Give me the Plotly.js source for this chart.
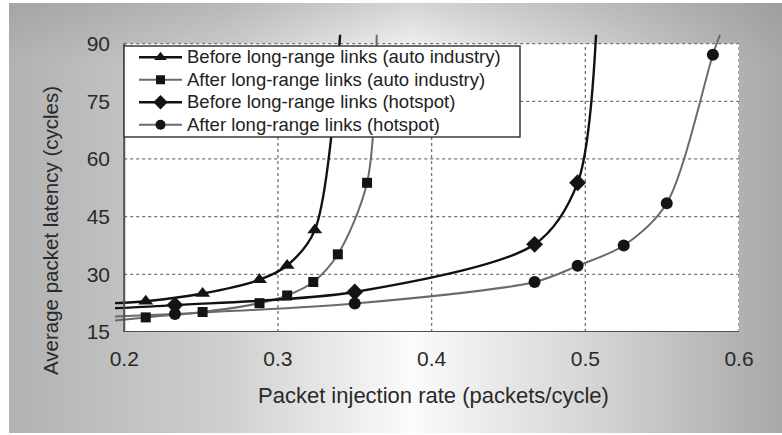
<!DOCTYPE html>
<html>
<head>
<meta charset="utf-8">
<script src="https://cdn.plot.ly/plotly-3.0.1.min.js"></script>
<style>
  html, body { margin: 0; padding: 0; background: #ffffff; }
  #wrap { position: relative; width: 782px; height: 435px; overflow: hidden; background: #ffffff; }
  #bg { position: absolute; left: 9px; top: 3px; width: 773px; height: 430px;
        background:
          linear-gradient(to bottom, rgba(140,140,140,0.35) 0%, rgba(140,140,140,0) 14%),
          linear-gradient(to right, #b2b2b2 0%, #cfcfcf 28%, #fbfbfb 52%, #d4d4d4 76%, #a8a8a8 100%); }
  #chart { position: absolute; left: 0; top: 0; width: 782px; height: 435px; }
</style>
</head>
<body>
<div id="wrap"><div id="bg"></div><div id="chart"></div></div>
<script>
// ---- data ----
const seriesNames = [
  "Before long-range links (auto industry)",
  "After long-range links (auto industry)",
  "Before long-range links (hotspot)",
  "After long-range links (hotspot)"
];
// marker points
const beforeAutoX = [0.214, 0.251, 0.288, 0.306, 0.324];
const beforeAutoY = [23.0, 25.0, 28.6, 32.3, 41.5];
const afterAutoX  = [0.214, 0.251, 0.288, 0.306, 0.323, 0.339, 0.358];
const afterAutoY  = [18.8, 20.2, 22.5, 24.5, 28.0, 35.2, 53.8];
const beforeHotX  = [0.233, 0.350, 0.467, 0.495];
const beforeHotY  = [22.0, 25.4, 37.8, 53.8];
const afterHotX   = [0.233, 0.350, 0.467, 0.495, 0.525, 0.553, 0.583];
const afterHotY   = [19.7, 22.4, 28.0, 32.2, 37.5, 48.5, 87.1];
// where each drawn line enters (left) and leaves (top) the frame
const lineStartX = [0.194, 0.194, 0.194, 0.194];
const lineStartY = [22.5, 18.0, 21.2, 19.0];
const lineEndX   = [0.3405, 0.3643, 0.507, 0.5876];
const lineEndY   = [92.3, 92.3, 92.3, 92.3];
// axes
const xTicks = [0.2, 0.3, 0.4, 0.5, 0.6];
const xTickText = ["0.2", "0.3", "0.4", "0.5", "0.6"];
const yTicks = [15, 30, 45, 60, 75, 90];
const yTickText = ["15", "30", "45", "60", "75", "90"];
const xTitle = "Packet injection rate (packets/cycle)";
const yTitle = "Average packet latency (cycles)";

const seriesX = [beforeAutoX, afterAutoX, beforeHotX, afterHotX];
const seriesY = [beforeAutoY, afterAutoY, beforeHotY, afterHotY];
const symbols = ["triangle-up", "square", "diamond", "circle"];
const msizes  = [13, 10, 13, 12];
const legSizes = [11, 9, 11, 10];
const lcolors = ["#111111", "#6a6a6a", "#111111", "#6a6a6a"];
const lwidths = [2.4, 2, 2.4, 2];
const mcolor = "#141414";
const FONT = "Liberation Sans, Arial, sans-serif";

const traces = [];
for (let i = 0; i < 4; i++) {
  traces.push({
    x: [lineStartX[i]].concat(seriesX[i], [lineEndX[i]]),
    y: [lineStartY[i]].concat(seriesY[i], [lineEndY[i]]),
    mode: "lines", type: "scatter", showlegend: false, hoverinfo: "skip",
    line: { color: lcolors[i], width: lwidths[i], shape: "spline", smoothing: 0.85 }
  });
}
for (let i = 0; i < 4; i++) {
  traces.push({
    x: seriesX[i], y: seriesY[i], mode: "markers", type: "scatter", showlegend: false,
    marker: { symbol: symbols[i], size: msizes[i], color: mcolor }, cliponaxis: false
  });
}
for (let i = 0; i < 4; i++) {
  traces.push({
    x: [null], y: [null], mode: "lines+markers", type: "scatter",
    name: '<span style="font-size:18.5px">' + seriesNames[i] + '</span>',
    line: { color: lcolors[i], width: lwidths[i] },
    marker: { symbol: symbols[i], size: legSizes[i], color: mcolor }
  });
}

const shapes = [];
// white plotting area
shapes.push({ type: "rect", xref: "x", yref: "y", x0: 0.2, x1: 0.6, y0: 15, y1: 90,
  fillcolor: "#ffffff", line: { width: 0 }, layer: "below" });
// dotted grid (incl. top and right frame)
[0.3, 0.4, 0.5, 0.6].forEach(v => shapes.push({ type: "line", xref: "x", yref: "y",
  x0: v, x1: v, y0: 15, y1: 90, line: { color: "#737373", width: 1.3, dash: "dot" }, layer: "below" }));
[30, 45, 60, 75, 90].forEach(v => shapes.push({ type: "line", xref: "x", yref: "y",
  x0: 0.2, x1: 0.6, y0: v, y1: v, line: { color: "#737373", width: 1.3, dash: "dot" }, layer: "below" }));
// solid left and bottom frame
shapes.push({ type: "line", xref: "x", yref: "y", x0: 0.2, x1: 0.2, y0: 15, y1: 90,
  line: { color: "#505050", width: 2 }, layer: "above" });
shapes.push({ type: "line", xref: "x", yref: "y", x0: 0.2, x1: 0.6, y0: 15, y1: 15,
  line: { color: "#505050", width: 2 }, layer: "above" });
// legend box
shapes.push({ type: "rect", xref: "paper", yref: "paper",
  x0: (124 - 115) / 624, x1: (520 - 115) / 624, y0: (332 - 137) / 298, y1: (332 - 46) / 298,
  fillcolor: "#ffffff", line: { color: "#3a3a3a", width: 1.5 }, layer: "above" });

const layout = {
  width: 782, height: 435,
  margin: { l: 115, r: 43, t: 34, b: 103 },
  paper_bgcolor: "rgba(0,0,0,0)",
  plot_bgcolor: "rgba(0,0,0,0)",
  font: { family: FONT, color: "#2a2a2a" },
  showlegend: true,
  legend: {
    x: (134 - 115) / 624, y: (332 - 41) / 298, xanchor: "left", yanchor: "top",
    bgcolor: "rgba(0,0,0,0)", borderwidth: 0, tracegroupgap: 0,
    font: { family: FONT, size: 15, color: "#222222" }, itemwidth: 43
  },
  xaxis: {
    range: [0.194, 0.6], tickvals: xTicks, ticktext: xTickText,
    showgrid: false, zeroline: false, showline: false, ticks: "",
    ticklabelstandoff: 12,
    tickfont: { size: 21, color: "#2a2a2a" }
  },
  yaxis: {
    range: [15, 92.5], tickvals: yTicks, ticktext: yTickText,
    showgrid: false, zeroline: false, showline: false, ticks: "",
    ticklabelstandoff: 4,
    tickfont: { size: 21, color: "#2a2a2a" }
  },
  annotations: [
    { text: xTitle, xref: "paper", yref: "paper", x: (433 - 115) / 624, y: (332 - 395) / 298,
      xanchor: "center", yanchor: "middle", showarrow: false, font: { size: 22, color: "#2a2a2a" } },
    { text: yTitle, xref: "paper", yref: "paper", x: (50 - 115) / 624, y: (332 - 231) / 298,
      xanchor: "center", yanchor: "middle", showarrow: false, textangle: -90,
      font: { size: 20.5, color: "#2a2a2a" } }
  ],
  shapes: shapes
};

Plotly.newPlot("chart", traces, layout, { displayModeBar: false, staticPlot: true });
</script>
</body>
</html>
